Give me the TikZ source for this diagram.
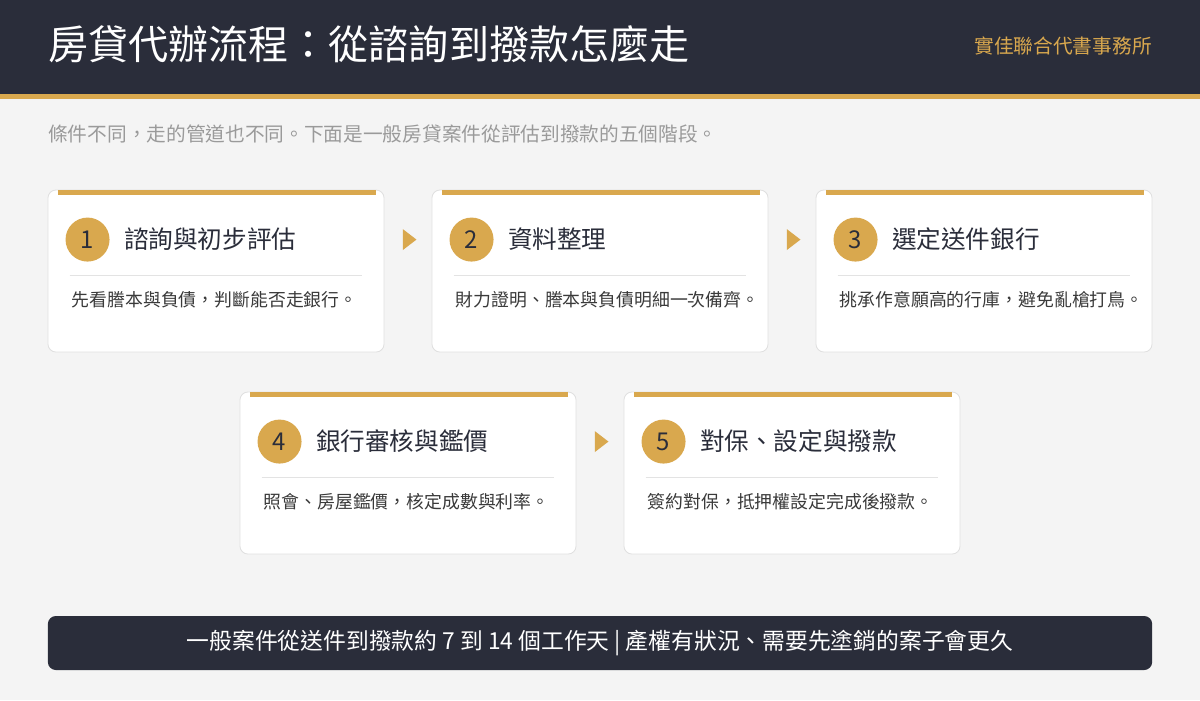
\documentclass[tikz,border=0pt]{standalone}
\usepackage{fontspec}
\setmainfont[Script=CJK,Language=Chinese Traditional]{Noto Sans CJK TC}
\usepackage{tikz}
\usetikzlibrary{positioning,calc,shapes.geometric}

\definecolor{headbg}{HTML}{2A2D3A}
\definecolor{gold}{HTML}{D9A84E}
\definecolor{pagebg}{HTML}{F4F4F4}
\definecolor{subgray}{HTML}{9A9A9A}
\definecolor{desctext}{HTML}{3A3A3A}
\definecolor{rulegray}{HTML}{E3E3E3}

\begin{document}
\begin{tikzpicture}[
      x=0.025cm, y=-0.025cm,
      every node/.style={inner sep=0pt},
      card/.style={rectangle,draw=black!12,line width=0.6pt,fill=white,rounded corners=0.2cm,
                   minimum width=8.4cm,minimum height=4.05cm},
      topbar/.style={fill=gold},
      numdot/.style={circle,fill=gold,minimum size=1.1cm,font=\fontsize{17}{17}\selectfont,text=headbg},
      steptitle/.style={font=\fontsize{17.5}{20}\selectfont,text=headbg,anchor=west},
      stepdesc/.style={font=\fontsize{12.7}{15}\selectfont,text=desctext,anchor=west},
      divider/.style={draw=rulegray,line width=0.7pt},
      flowtri/.style={isosceles triangle,isosceles triangle apex angle=75,fill=gold,
                      minimum height=0.34cm,minimum width=0.4cm}
  ]

  % ===================== 背景與標題列 =====================
  \useasboundingbox (0,0) rectangle (1200,700);
  \fill[pagebg] (0,0) rectangle (1200,700);
  \fill[headbg] (0,0) rectangle (1200,94);
  \fill[gold] (0,94) rectangle (1200,99);

  \node[anchor=west,text=white,font=\fontsize{28.5}{30}\selectfont] (title) at (48,44)
      {房貸代辦流程：從諮詢到撥款怎麼走};
  \node[anchor=east,text=gold,font=\fontsize{14}{16}\selectfont] (firm) at (1152,46)
      {實佳聯合代書事務所};

  \node[anchor=west,text=subgray,font=\fontsize{14}{16}\selectfont] (subtitle) at (48,134)
      {條件不同，走的管道也不同。下面是一般房貸案件從評估到撥款的五個階段。};

  % ===================== 五個階段卡片 =====================
  \node[card] (card1) at (216,271) {};
  \node[card] (card2) at (600,271) {};
  \node[card] (card3) at (984,271) {};
  \node[card] (card4) at (408,473) {};
  \node[card] (card5) at (792,473) {};

  % 卡片上緣金色條
  \fill[topbar] ([xshift=0.25cm]card1.north west) rectangle ([xshift=-0.22cm,yshift=-0.125cm]card1.north east);
  \fill[topbar] ([xshift=0.25cm]card2.north west) rectangle ([xshift=-0.22cm,yshift=-0.125cm]card2.north east);
  \fill[topbar] ([xshift=0.25cm]card3.north west) rectangle ([xshift=-0.22cm,yshift=-0.125cm]card3.north east);
  \fill[topbar] ([xshift=0.25cm]card4.north west) rectangle ([xshift=-0.22cm,yshift=-0.125cm]card4.north east);
  \fill[topbar] ([xshift=0.25cm]card5.north west) rectangle ([xshift=-0.22cm,yshift=-0.125cm]card5.north east);

  % 編號圓點與標題
  \node[numdot] (num1) at ([xshift=1cm,yshift=-1.25cm]card1.north west) {1};
  \node[steptitle,right=0.35cm of num1] (head1) {諮詢與初步評估};
  \node[numdot] (num2) at ([xshift=1cm,yshift=-1.25cm]card2.north west) {2};
  \node[steptitle,right=0.35cm of num2] (head2) {資料整理};
  \node[numdot] (num3) at ([xshift=1cm,yshift=-1.25cm]card3.north west) {3};
  \node[steptitle,right=0.35cm of num3] (head3) {選定送件銀行};
  \node[numdot] (num4) at ([xshift=1cm,yshift=-1.25cm]card4.north west) {4};
  \node[steptitle,right=0.35cm of num4] (head4) {銀行審核與鑑價};
  \node[numdot] (num5) at ([xshift=1cm,yshift=-1.25cm]card5.north west) {5};
  \node[steptitle,right=0.35cm of num5] (head5) {對保、設定與撥款};

  % 分隔線
  \draw[divider] ([xshift=0.55cm,yshift=-2.15cm]card1.north west) -- ([xshift=-0.55cm,yshift=-2.15cm]card1.north east);
  \draw[divider] ([xshift=0.55cm,yshift=-2.15cm]card2.north west) -- ([xshift=-0.55cm,yshift=-2.15cm]card2.north east);
  \draw[divider] ([xshift=0.55cm,yshift=-2.15cm]card3.north west) -- ([xshift=-0.55cm,yshift=-2.15cm]card3.north east);
  \draw[divider] ([xshift=0.55cm,yshift=-2.15cm]card4.north west) -- ([xshift=-0.55cm,yshift=-2.15cm]card4.north east);
  \draw[divider] ([xshift=0.55cm,yshift=-2.15cm]card5.north west) -- ([xshift=-0.55cm,yshift=-2.15cm]card5.north east);

  % 說明文字
  \node[stepdesc] (desc1) at ([xshift=0.6cm,yshift=-2.75cm]card1.north west) {先看謄本與負債，判斷能否走銀行。};
  \node[stepdesc] (desc2) at ([xshift=0.6cm,yshift=-2.75cm]card2.north west) {財力證明、謄本與負債明細一次備齊。};
  \node[stepdesc] (desc3) at ([xshift=0.6cm,yshift=-2.75cm]card3.north west) {挑承作意願高的行庫，避免亂槍打鳥。};
  \node[stepdesc] (desc4) at ([xshift=0.6cm,yshift=-2.75cm]card4.north west) {照會、房屋鑑價，核定成數與利率。};
  \node[stepdesc] (desc5) at ([xshift=0.6cm,yshift=-2.75cm]card5.north west) {簽約對保，抵押權設定完成後撥款。};

  % ===================== 階段之間的箭頭 =====================
  \node[flowtri] (go12) at ($(card1.east |- num1)!0.5!(card2.west |- num2)$) {};
  \node[flowtri] (go23) at ($(card2.east |- num2)!0.5!(card3.west |- num3)$) {};
  \node[flowtri] (go45) at ($(card4.east |- num4)!0.5!(card5.west |- num5)$) {};

  % ===================== 底部說明列 =====================
  \node[fill=headbg,rounded corners=0.2cm,minimum width=27.6cm,minimum height=1.35cm,
        text=white,font=\fontsize{16.2}{18}\selectfont] (footbar) at (600,643)
      {一般案件從送件到撥款約 7 到 14 個工作天 | 產權有狀況、需要先塗銷的案子會更久};

\end{tikzpicture}
\end{document}
